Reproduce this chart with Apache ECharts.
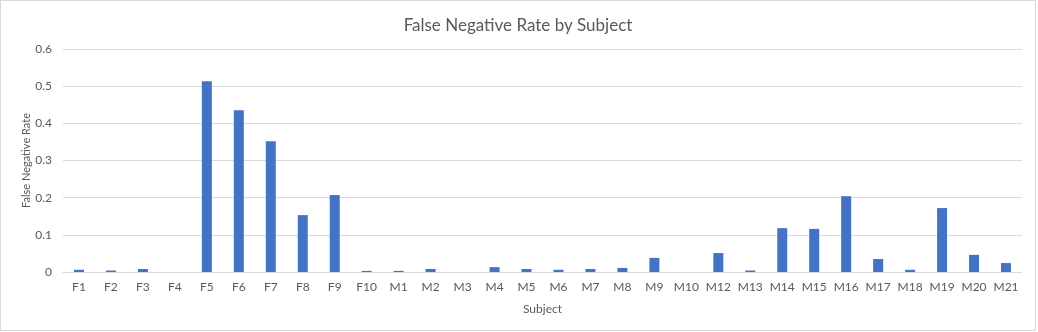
<!DOCTYPE html>
<html>
<head>
<meta charset="utf-8">
<script src="https://cdn.jsdelivr.net/npm/echarts@6/dist/echarts.min.js"></script>
<style>
  html, body { margin: 0; padding: 0; background: #fff; }
  #chart { width: 1034px; height: 329px; border: 1px solid #d9d9d9; }
</style>
</head>
<body>
<div id="chart"></div>
<script>
const subjects = ['F1', 'F2', 'F3', 'F4', 'F5', 'F6', 'F7', 'F8', 'F9', 'F10',
  'M1', 'M2', 'M3', 'M4', 'M5', 'M6', 'M7', 'M8', 'M9', 'M10',
  'M12', 'M13', 'M14', 'M15', 'M16', 'M17', 'M18', 'M19', 'M20', 'M21']
const falseNegativeRate = [0.006, 0.004, 0.008, 0, 0.513, 0.435, 0.352, 0.153, 0.207, 0.003,
  0.003, 0.008, 0, 0.013, 0.008, 0.006, 0.008, 0.011, 0.038, 0,
  0.051, 0.004, 0.118, 0.116, 0.204, 0.035, 0.006, 0.172, 0.046, 0.024]

const textColor = '#595959'
const font = 'Lato, "Open Sans", sans-serif'

const chart = echarts.init(document.getElementById('chart'))
chart.setOption({
  animation: false,
  title: {
    text: 'False Negative Rate by Subject',
    left: 'center',
    top: 11,
    textStyle: { color: textColor, fontSize: 17, fontWeight: 'normal', fontFamily: font }
  },
  grid: {
    left: 62,
    right: 13,
    top: 48,
    height: 223
  },
  xAxis: {
    type: 'category',
    data: subjects,
    name: 'Subject',
    nameLocation: 'middle',
    nameGap: 31,
    nameMoveOverlap: false,
    nameTextStyle: { color: textColor, fontSize: 12, fontFamily: font },
    axisTick: { show: false },
    axisLine: { lineStyle: { color: '#d9d9d9' } },
    axisLabel: { color: textColor, fontSize: 12, fontFamily: font, margin: 9, interval: 0 }
  },
  yAxis: {
    type: 'value',
    min: 0,
    max: 0.6,
    interval: 0.1,
    name: 'False Negative Rate',
    nameLocation: 'middle',
    nameGap: 31,
    nameMoveOverlap: false,
    nameTextStyle: { color: textColor, fontSize: 11, fontFamily: font },
    axisLine: { show: false },
    axisTick: { show: false },
    splitLine: { lineStyle: { color: '#d9d9d9' } },
    axisLabel: {
      color: textColor, fontSize: 12, fontFamily: font, margin: 11,
      formatter: v => v === 0 ? '0' : v.toFixed(1)
    }
  },
  series: [{
    type: 'bar',
    data: falseNegativeRate,
    barWidth: 10,
    itemStyle: { color: '#4472C4' }
  }]
})
</script>
</body>
</html>
